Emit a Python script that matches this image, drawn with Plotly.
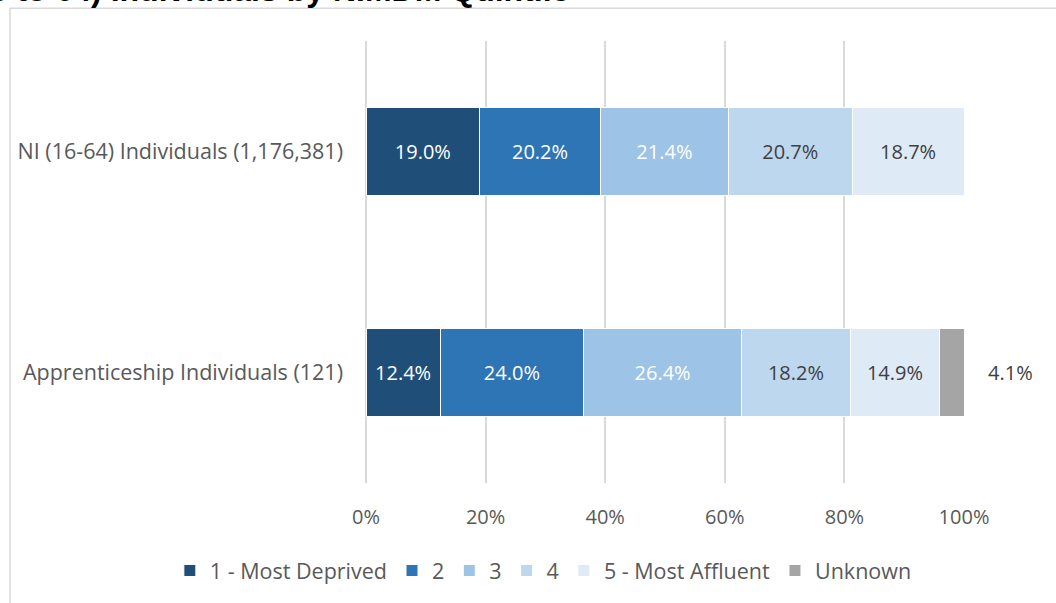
import plotly.graph_objects as go

groups = ["Apprenticeship Individuals (121)", "NI (16-64) Individuals (1,176,381)"]
quintiles = ["1 - Most Deprived", "2", "3", "4", "5 - Most Affluent", "Unknown"]
# percentages per quintile, order matches groups
q1 = [12.4, 19.0]
q2 = [24.0, 20.2]
q3 = [26.4, 21.4]
q4 = [18.2, 20.7]
q5 = [14.9, 18.7]
unknown = [4.1, 0.0]
x_ticks = [0, 20, 40, 60, 80, 100]

series = [q1, q2, q3, q4, q5, unknown]
colors = ["#1F4E79", "#2E75B6", "#9DC3E6", "#BDD7EE", "#DEEBF7", "#A5A5A5"]
text_colors = ["white", "white", "white", "#404040", "#404040", "#404040"]

FONT = "Open Sans"
FS = 20

fig = go.Figure()
for name, vals, c, tc in zip(quintiles, series, colors, text_colors):
    is_unknown = name == "Unknown"
    fig.add_trace(go.Bar(
        y=groups, x=vals, name=name, orientation="h",
        marker=dict(color=c, line=dict(color="white", width=1)),
        text=["" if (is_unknown or v == 0) else f"{v:.1f}%" for v in vals],
        textposition="inside", insidetextanchor="middle",
        textfont=dict(color=tc, size=FS, family=FONT),
        hoverinfo="skip",
    ))

# outside label for the Unknown segment
for g, v, tot in zip(groups, unknown, [sum(s) for s in zip(*series)]):
    if v > 0:
        fig.add_annotation(x=tot, y=g, text=f"{v:.1f}%", showarrow=False,
                           xanchor="left", xshift=22,
                           font=dict(size=FS, color="#404040", family=FONT))

# title, cropped at the top-left as in the original
fig.add_annotation(xref="paper", yref="paper", x=0.342, y=1, yshift=31,
                   xanchor="right", yanchor="bottom", showarrow=False,
                   text="<b>Apprenticeships and NI (16 to 64) Individuals by NIMDM Quintile</b>",
                   font=dict(size=32, color="black", family="Liberation Sans"))

# chart border
fig.add_shape(type="rect", xref="paper", yref="paper",
              x0=-0.5953, x1=2, y0=-1, y1=1.0742,
              line=dict(color="#D9D9D9", width=1.5), layer="below")

fig.update_layout(
    barmode="stack", bargap=0.6,
    width=1056, height=603,
    margin=dict(l=366, r=92, t=41, b=117),
    paper_bgcolor="white", plot_bgcolor="white",
    font=dict(family=FONT, size=FS, color="#595959"),
    legend=dict(orientation="h", x=-0.328, y=-0.198,
                xanchor="left", yanchor="middle",
                font=dict(size=21.5, color="#595959"), traceorder="normal",
                itemwidth=30),
    showlegend=True,
)
fig.update_xaxes(range=[0, 100], tickvals=x_ticks,
                 ticktext=[f"{t}%" for t in x_ticks],
                 showgrid=True, gridcolor="#D9D9D9", gridwidth=1.5,
                 zeroline=True, zerolinecolor="#D9D9D9", zerolinewidth=1.5,
                 ticks="", ticklabelstandoff=20, showline=False)
fig.update_yaxes(ticks="", ticklabelstandoff=22, showgrid=False, showline=False,
                 tickfont=dict(size=21.5))

fig.write_html("out.html", config={"displayModeBar": False},
               post_script="document.body.style.margin='0';")
